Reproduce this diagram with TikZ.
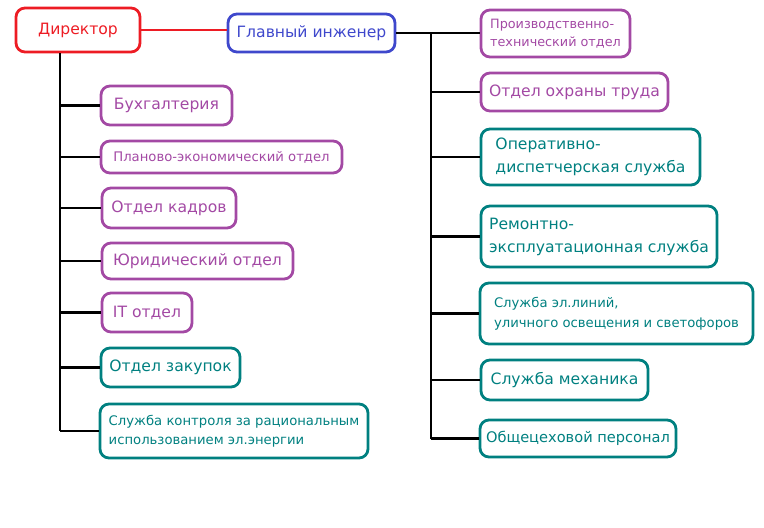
\documentclass[tikz,border=0pt]{standalone}
\usepackage{fontspec}
\setmainfont{DejaVu Sans}
\definecolor{cred}{HTML}{ED1C24}
\definecolor{cblue}{HTML}{3F48CC}
\definecolor{cpurp}{HTML}{A349A4}
\definecolor{cteal}{HTML}{008080}
\tikzset{
  box/.style={draw, rounded corners=9pt, line width=2.8pt, inner sep=0pt, align=left},
  pbox/.style={box, draw=cpurp, text=cpurp},
  tbox/.style={box, draw=cteal, text=cteal},
  big/.style={font=\fontsize{15.6}{23}\selectfont},
  small/.style={font=\fontsize{13.2}{19.5}\selectfont},
  conn/.style={line width=2.8pt, black},
}
\begin{document}
\begin{tikzpicture}[x=1pt,y=-1pt]
\useasboundingbox (0,0) rectangle (764,528);
\coordinate (lbus) at (60,0);
\coordinate (rbus) at (431,0);
% top
\node[box, draw=cred, text=cred, big, minimum width=124pt, minimum height=44pt] (dir) at (78,30) {Директор};
\node[box, draw=cblue, text=cblue, big, minimum width=167pt, minimum height=38pt] (gi) at (311.5,33) {Главный инженер};
% left column
\node[pbox, big, minimum width=131pt, minimum height=39pt] (buh) at (166.5,105.5) {Бухгалтерия};
\node[pbox, small, minimum width=241pt, minimum height=32pt] (plan) at (221.5,157) {Планово-экономический отдел};
\node[pbox, big, minimum width=134pt, minimum height=40pt] (kadr) at (169,208) {Отдел кадров};
\node[pbox, big, minimum width=191pt, minimum height=36pt] (yur) at (197.5,261) {Юридический отдел};
\node[pbox, big, minimum width=90pt, minimum height=39pt] (it) at (147,312.5) {IT отдел};
\node[tbox, big, minimum width=139pt, minimum height=39pt] (zak) at (170.5,367.5) {Отдел закупок};
\node[tbox, small, minimum width=268pt, minimum height=54pt] (kontr) at (234,431) {Служба контроля за рациональным\\использованием эл.энергии};
% right column
\node[pbox, font=\fontsize{12.8}{18.5}\selectfont, minimum width=149pt, minimum height=47pt] (pto) at (555.5,33.5) {Производственно-\\технический отдел};
\node[pbox, big, minimum width=187pt, minimum height=38pt] (ohr) at (574.5,92) {Отдел охраны труда};
\node[tbox, big, minimum width=219pt, minimum height=56pt] (oper) at (590.5,157) {Оперативно-\\диспетчерская служба};
\node[tbox, big, minimum width=236pt, minimum height=61pt] (rem) at (599,236.5) {Ремонтно-\\эксплуатационная служба};
\node[tbox, small, minimum width=273pt, minimum height=61pt] (lin) at (616.5,313.5) {Служба эл.линий,\\уличного освещения и светофоров};
\node[tbox, big, minimum width=167pt, minimum height=40pt] (meh) at (564.5,380) {Служба механика};
\node[tbox, font=\fontsize{14.6}{20}\selectfont, minimum width=196pt, minimum height=37pt] (obsh) at (578,438.5) {Общецеховой персонал};
% connectors
\draw[line width=2.8pt, cred] (dir.east) -- (dir.east -| gi.west);
\draw[conn] (dir.south -| lbus) -- (kontr.west -| lbus);
\foreach \n in {buh,plan,kadr,yur,it,zak,kontr} {\draw[conn] (\n.west -| lbus) -- (\n.west);}
\draw[conn] (gi.east) -- (gi.east -| pto.west);
\draw[conn] (gi.east -| rbus) -- (obsh.west -| rbus);
\foreach \n in {ohr,oper,rem,lin,meh,obsh} {\draw[conn] (\n.west -| rbus) -- (\n.west);}
\end{tikzpicture}
\end{document}
